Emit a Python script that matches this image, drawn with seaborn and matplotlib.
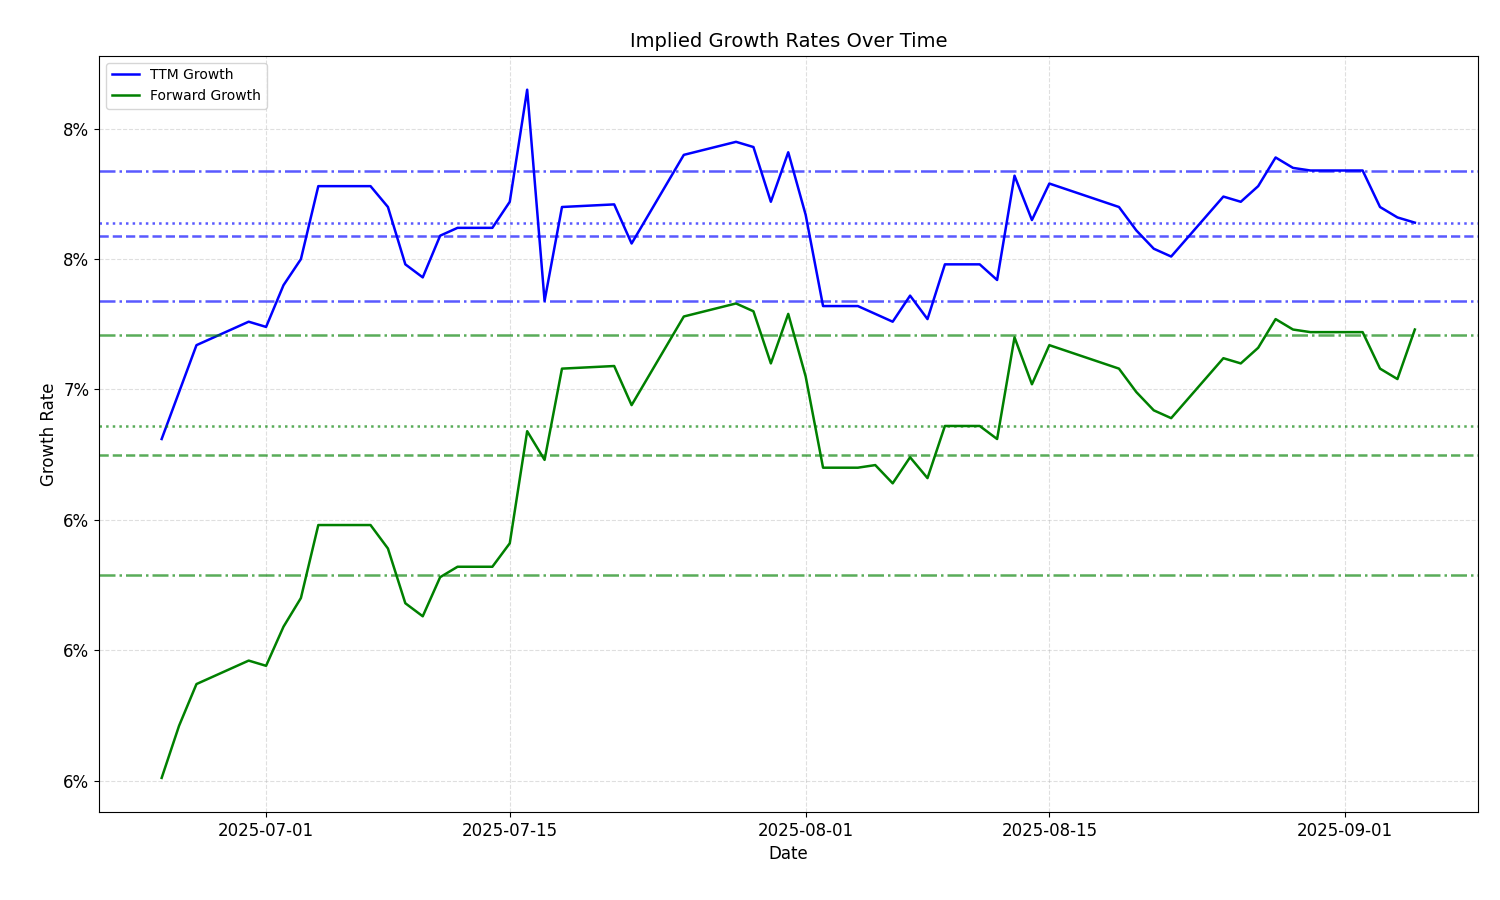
import pandas as pd
import numpy as np
import matplotlib
matplotlib.use("Agg")
import matplotlib.pyplot as plt
import matplotlib.ticker as mticker
import seaborn as sns

dates = [
    "2025-06-25", "2025-06-26", "2025-06-27", "2025-06-30", "2025-07-01", "2025-07-02",
    "2025-07-03", "2025-07-04", "2025-07-07", "2025-07-08", "2025-07-09", "2025-07-10",
    "2025-07-11", "2025-07-12", "2025-07-14", "2025-07-15", "2025-07-16", "2025-07-17",
    "2025-07-18", "2025-07-21", "2025-07-22", "2025-07-25", "2025-07-28", "2025-07-29",
    "2025-07-30", "2025-07-31", "2025-08-01", "2025-08-02", "2025-08-04", "2025-08-05",
    "2025-08-06", "2025-08-07", "2025-08-08", "2025-08-09", "2025-08-11", "2025-08-12",
    "2025-08-13", "2025-08-14", "2025-08-15", "2025-08-19", "2025-08-20", "2025-08-21",
    "2025-08-22", "2025-08-25", "2025-08-26", "2025-08-27", "2025-08-28", "2025-08-29",
    "2025-08-30", "2025-09-02", "2025-09-03", "2025-09-04", "2025-09-05",
]

# growth rates in percent
ttm_growth = [
    6.81, 6.99, 7.17, 7.26, 7.24, 7.40, 7.50, 7.78, 7.78, 7.70, 7.48, 7.43,
    7.59, 7.62, 7.62, 7.72, 8.15, 7.34, 7.70, 7.71, 7.56, 7.90, 7.95, 7.93,
    7.72, 7.91, 7.67, 7.32, 7.32, 7.29, 7.26, 7.36, 7.27, 7.48, 7.48, 7.42,
    7.82, 7.65, 7.79, 7.70, 7.61, 7.54, 7.51, 7.74, 7.72, 7.78, 7.89, 7.85,
    7.84, 7.84, 7.70, 7.66, 7.64,
]
fwd_growth = [
    5.51, 5.71, 5.87, 5.96, 5.94, 6.09, 6.20, 6.48, 6.48, 6.39, 6.18, 6.13,
    6.28, 6.32, 6.32, 6.41, 6.84, 6.73, 7.08, 7.09, 6.94, 7.28, 7.33, 7.30,
    7.10, 7.29, 7.05, 6.70, 6.70, 6.71, 6.64, 6.74, 6.66, 6.86, 6.86, 6.81,
    7.20, 7.02, 7.17, 7.08, 6.99, 6.92, 6.89, 7.12, 7.10, 7.16, 7.27, 7.23,
    7.22, 7.22, 7.08, 7.04, 7.23,
]

# reference levels (percent): mean, median, upper band, lower band
ttm_mean, ttm_median, ttm_hi, ttm_lo = 7.59, 7.64, 7.84, 7.34
fwd_mean, fwd_median, fwd_hi, fwd_lo = 6.75, 6.86, 7.21, 6.29

df = pd.DataFrame({
    "Date": pd.to_datetime(dates),
    "TTM Growth": np.array(ttm_growth) / 100,
    "Forward Growth": np.array(fwd_growth) / 100,
})

fig, ax = plt.subplots(figsize=(15, 9), dpi=100)
sns.lineplot(data=df, x="Date", y="TTM Growth", color="blue", label="TTM Growth", ax=ax, linewidth=1.8)
sns.lineplot(data=df, x="Date", y="Forward Growth", color="green", label="Forward Growth", ax=ax, linewidth=1.8)

for col, (m, md, hi, lo) in [("blue", (ttm_mean, ttm_median, ttm_hi, ttm_lo)),
                             ("green", (fwd_mean, fwd_median, fwd_hi, fwd_lo))]:
    ax.axhline(m / 100, color=col, linestyle="--", alpha=0.65, linewidth=1.8)
    ax.axhline(md / 100, color=col, linestyle=":", alpha=0.65, linewidth=1.8)
    ax.axhline(hi / 100, color=col, linestyle="-.", alpha=0.65, linewidth=1.8)
    ax.axhline(lo / 100, color=col, linestyle="-.", alpha=0.65, linewidth=1.8)

ax.yaxis.set_major_locator(mticker.MultipleLocator(0.005))
ax.yaxis.set_major_formatter(mticker.FuncFormatter(lambda v, p: "{:.0%}".format(v)))
ax.set_ylim(0.0538, 0.0828)
ax.grid(True, linestyle="--", alpha=0.4)
ax.set_title("Implied Growth Rates Over Time", fontsize=14)
ax.set_xlabel("Date", fontsize=12)
ax.set_ylabel("Growth Rate", fontsize=12)
ax.tick_params(labelsize=12)
ax.legend(loc="upper left", fontsize=10)
fig.subplots_adjust(left=0.066, right=0.985, top=0.938, bottom=0.098)
fig.savefig("out.png")
